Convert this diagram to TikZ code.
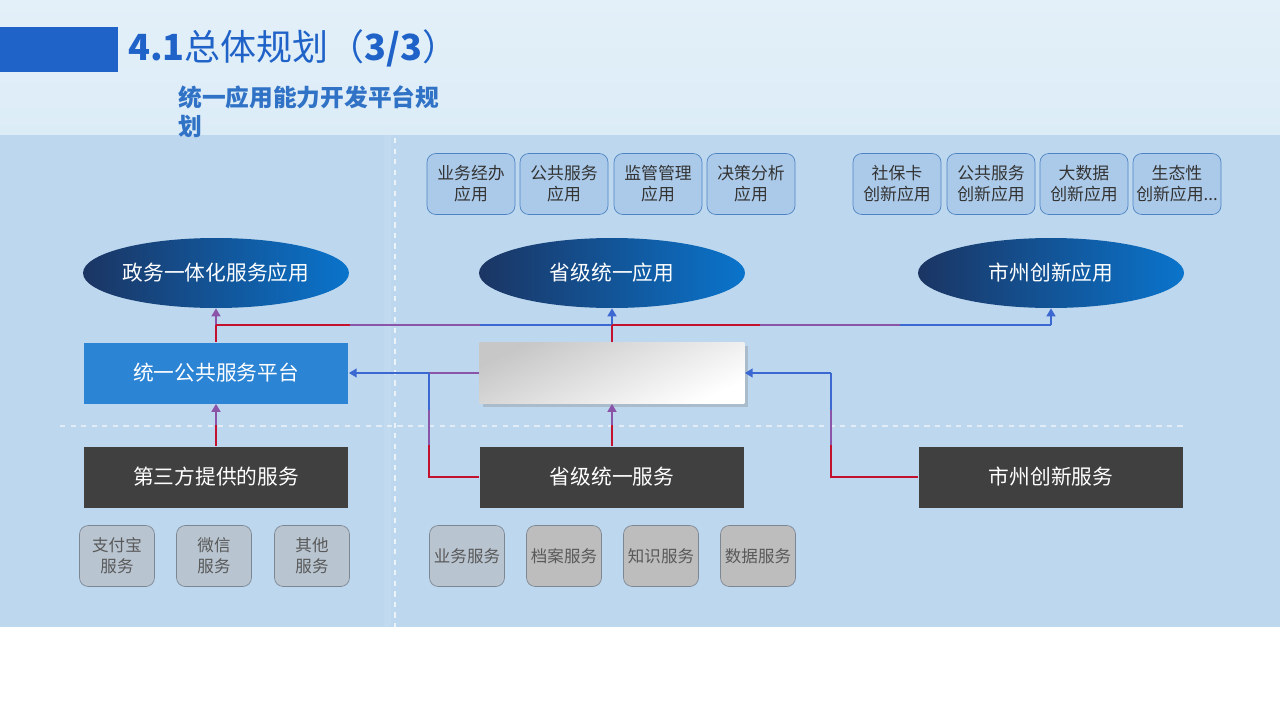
\documentclass[tikz,border=0pt]{standalone}
\usepackage{fontspec}
\setmainfont{Noto Sans CJK SC}
\usetikzlibrary{shapes.geometric,shadows,arrows.meta,calc}

\definecolor{bandbg}{HTML}{DCECF7}
\definecolor{mainbg}{HTML}{BDD7EE}
\definecolor{titleblue}{HTML}{1F62C8}
\definecolor{subblue}{HTML}{2F72C6}
\definecolor{appfill}{HTML}{ABCAE9}
\definecolor{appedge}{HTML}{4E84C4}
\definecolor{ellL}{HTML}{1B3563}
\definecolor{ellR}{HTML}{0A74CC}
\definecolor{platblue}{HTML}{2C84D4}
\definecolor{darkbox}{HTML}{404040}
\definecolor{svcblue}{HTML}{B8C4D0}
\definecolor{svcgray}{HTML}{BDBDBD}
\definecolor{svcedge}{HTML}{7D8792}
\definecolor{lnred}{HTML}{C4122E}
\definecolor{lnpur}{HTML}{8A55A8}
\definecolor{lnblue}{HTML}{3C68D2}

\begin{document}
\begin{tikzpicture}[x=0.02cm,y=-0.02cm,
  appbox/.style={draw=appedge, fill=appfill, rounded corners=5pt, minimum width=1.76cm, minimum height=1.22cm,
    inner sep=1pt, align=center, text=black!80, font=\fontsize{9.6}{12}\selectfont},
  appell/.style={ellipse, left color=ellL, right color=ellR, minimum width=5.32cm, minimum height=1.4cm,
    inner sep=0pt, text=white, font=\fontsize{11.8}{14}\selectfont},
  platbox/.style={fill=platblue, minimum width=5.3cm, minimum height=1.22cm, text=white, font=\fontsize{11.8}{14}\selectfont},
  svcbox/.style={fill=darkbox, minimum width=5.3cm, minimum height=1.22cm, text=white, font=\fontsize{11.8}{14}\selectfont},
  subbox/.style={draw=svcedge, rounded corners=5pt, minimum width=1.5cm, minimum height=1.22cm,
    inner sep=1pt, align=center, text=black!65, font=\fontsize{9.4}{11.8}\selectfont},
  lred/.style={lnred, line width=1.1pt},
  lpur/.style={lnpur, line width=1.1pt},
  lblue/.style={lnblue, line width=1.1pt},
  tip/.style={-{Triangle[length=4.5pt,width=5pt]}}]
\useasboundingbox (0,0) rectangle (1280,720);

% Background
\fill[white] (0,0) rectangle (1280,720);
\shade[top color=bandbg!80!white, bottom color=bandbg] (0,0) rectangle (1280,135);
\fill[mainbg] (0,135) rectangle (1280,627);
\fill[white, opacity=0.08] (384,135) rectangle (391,627);
\draw[white, opacity=0.7, dashed, line width=0.6pt] (395,138) -- (395,627);
\draw[white, opacity=0.55, dashed, line width=0.8pt] (60,426) -- (1185,426);

% Title
\fill[titleblue] (0,27) rectangle (118,72);
\node[anchor=west, text=titleblue, font=\fontsize{20.5}{24}\selectfont, inner sep=0pt] (title) at (128,48)
  {\textbf{4.1}总体规划（\textbf{3/3}）};
\node[anchor=north west, align=left, text=subblue, font=\fontsize{13.5}{16.4}\bfseries\selectfont, inner sep=0pt] (subtitle) at (178,85)
  {统一应用能力开发平台规\\划};

% Applications
\node[appbox] (ywjb) at (471,184) {业务经办\\应用};
\node[appbox] (ggfw) at (564,184) {公共服务\\应用};
\node[appbox] (jggl) at (658,184) {监管管理\\应用};
\node[appbox] (jcfx) at (751,184) {决策分析\\应用};
\node[appbox] (sbk) at (897,184) {社保卡\\创新应用};
\node[appbox] (ggcx) at (991,184) {公共服务\\创新应用};
\node[appbox] (dsj) at (1084,184) {大数据\\创新应用};
\node[appbox] (stx) at (1177,184) {生态性\\创新应用...};

\node[appell] (zwyth) at (216,273) {政务一体化服务应用};
\node[appell] (sjty) at (612,273) {省级统一应用};
\node[appell] (szcx) at (1051,273) {市州创新应用};

% Platforms
\node[platbox] (plat) at (216,373) {统一公共服务平台};
\node[minimum width=5.3cm, minimum height=1.22cm, top color=black!22, bottom color=white, shading angle=25,
  drop shadow={shadow xshift=2pt, shadow yshift=-2pt, opacity=0.3}] (core) at (612,373) {};

% Services
\node[svcbox] (dsf) at (216,477) {第三方提供的服务};
\node[svcbox] (sjfw) at (612,477) {省级统一服务};
\node[svcbox] (szfw) at (1051,477) {市州创新服务};

\node[subbox, fill=svcblue] (zfb) at (117,556) {支付宝\\服务};
\node[subbox, fill=svcblue] (wx) at (214,556) {微信\\服务};
\node[subbox, fill=svcblue] (qt) at (312,556) {其他\\服务};
\node[subbox, fill=svcblue] (ywfw) at (467,556) {业务服务};
\node[subbox, fill=svcgray] (dafw) at (564,556) {档案服务};
\node[subbox, fill=svcgray] (zsfw) at (661,556) {知识服务};
\node[subbox, fill=svcgray] (sjfwb) at (758,556) {数据服务};

% Connectors up to the applications
\coordinate (busL) at (plat.north |- 0,325);
\coordinate (busM) at (core.north |- 0,325);
\coordinate (busR) at (szcx.south |- 0,325);
\draw[lred] (plat.north) -- (busL);
\draw[lpur, tip] (busL) -- (zwyth.south);
\draw[lred] (busL) -- (350,325);
\draw[lpur] (350,325) -- (480,325);
\draw[lblue] (480,325) -- (busM);
\draw[lred] (core.north) -- (busM);
\draw[lblue, tip] (busM) -- (sjty.south);
\draw[lred] (busM) -- (760,325);
\draw[lpur] (760,325) -- (900,325);
\draw[lblue] (900,325) -- (busR);
\draw[lblue, tip] (busR) -- (szcx.south);

% Connectors between the platforms
\coordinate (jL) at (429,373);
\coordinate (jR) at (831,373);
\draw[lpur] (core.west) -- (jL);
\draw[lblue, tip] (jL) -- (plat.east);
\draw[lred] (sjfw.west) -- (jL |- sjfw.west) -- (429,445);
\draw[lpur] (429,445) -- (429,410);
\draw[lblue] (429,410) -- (jL);
\draw[lred] (szfw.west) -- (jR |- szfw.west) -- (831,445);
\draw[lpur] (831,445) -- (831,410);
\draw[lblue] (831,410) -- (jR);
\draw[lblue, tip] (jR) -- (core.east);

% Connectors up from the services
\draw[lred] (dsf.north) -- ($(dsf.north)!0.5!(plat.south)$);
\draw[lpur, tip] ($(dsf.north)!0.5!(plat.south)$) -- (plat.south);
\draw[lred] (sjfw.north) -- ($(sjfw.north)!0.5!(core.south)$);
\draw[lpur, tip] ($(sjfw.north)!0.5!(core.south)$) -- (core.south);

\end{tikzpicture}
\end{document}
